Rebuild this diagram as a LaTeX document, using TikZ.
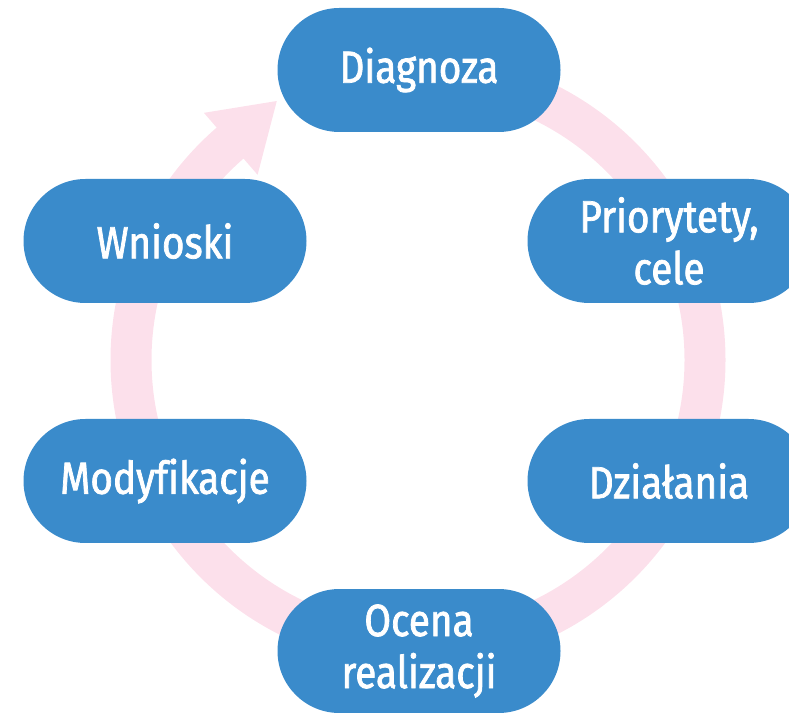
\documentclass[tikz,border=0pt]{standalone}
\usepackage{fontspec}
\setmainfont{Fira Sans}[FakeStretch=0.86, Ligatures=NoCommon]
\newfontfamily\pillfont{Fira Sans}[FakeStretch=0.86, FakeBold=1.6, Ligatures=NoCommon]
\definecolor{pillblue}{HTML}{3A8BCB}
\definecolor{ringpink}{HTML}{FCE0EB}
\tikzset{
  pill/.style={fill=pillblue, rounded corners=62pt, minimum width=283pt,
    minimum height=124pt, inner sep=0pt, text=white, align=center,
    font=\pillfont\fontsize{45}{52}\selectfont},
  ring/.style={draw=ringpink, line width=41pt, line cap=butt}
}
\begin{document}
\begin{tikzpicture}[x=1pt,y=1pt]
  \useasboundingbox (0,0) rectangle (789,712);
  \clip (0,0) rectangle (789,712);
  % cycle ring, running clockwise and ending in an arrowhead
  \coordinate (c) at (418,352);
  \draw[ring] ([shift={(90:287)}]c) arc[start angle=90, end angle=-229.5, radius=287];
  \fill[ringpink] ([shift={(130.9:327)}]c) -- ([shift={(118.6:295)}]c)
    -- ([shift={(130.9:245)}]c) -- cycle;
  % steps of the cycle
  \node[pill] (diag) at (419,642) {Diagnoza};
  \node[pill] (prio) at (669,471) {Priorytety,\\cele};
  \node[pill] (dzial) at (669,231) {Działania};
  \node[pill] (ocena) at (419,61) {Ocena\\realizacji};
  \node[pill] (mod) at (165,231) {Modyfikacje};
  \node[pill] (wn) at (165,471) {Wnioski};
\end{tikzpicture}
\end{document}
